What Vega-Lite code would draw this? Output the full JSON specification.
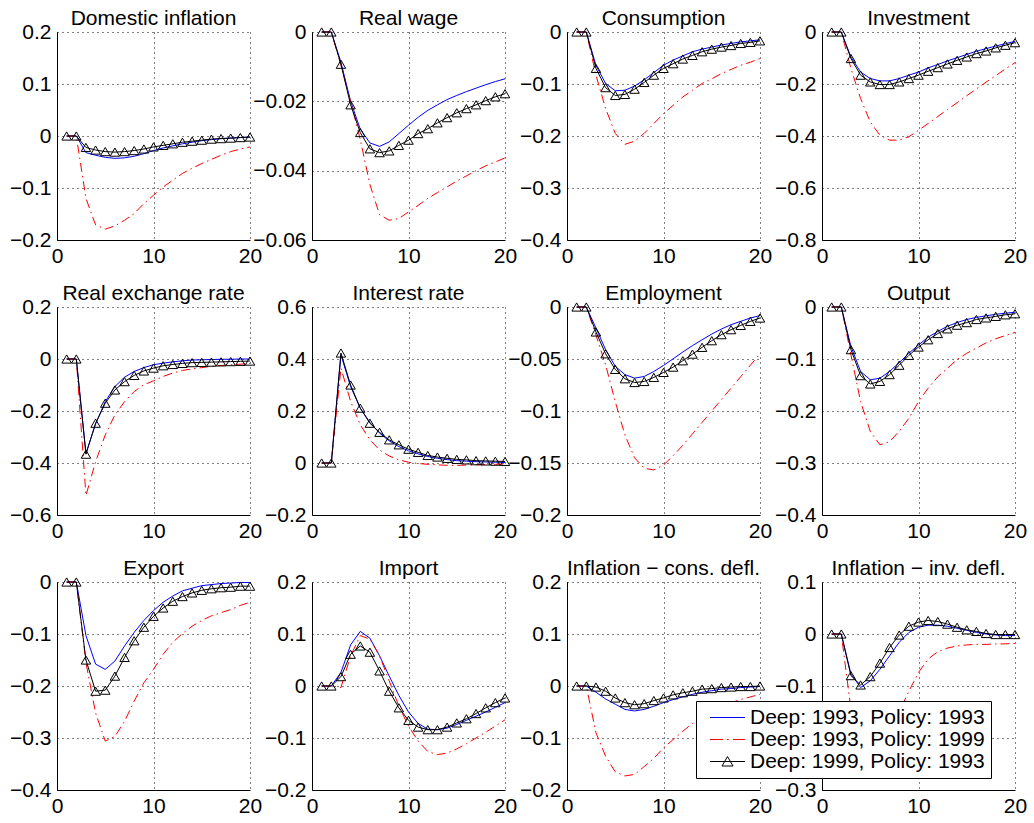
{
"$schema": "https://vega.github.io/schema/vega-lite/v6.json",
"padding": {"left": 9, "top": 8, "right": 2, "bottom": 4},
"background": "white",
"columns": 4,
"bounds": "flush",
"spacing": {"row": 67, "column": 62},
"config": {
  "view": {"stroke": null},
  "font": "Liberation Sans",
  "axis": {"domainColor": "black", "domainWidth": 1, "ticks": false, "labelColor": "black", "labelFontSize": 21, "labelFont": "Liberation Sans", "gridColor": "black", "gridDash": [1, 4], "gridOpacity": 1, "gridWidth": 1, "labelOverlap": false, "labelFlush": false, "labelBound": false, "title": null, "labelPadding": 6, "format": "~g"},
  "axisX": {"labelPadding": 5},
  "title": {"fontSize": 21, "fontWeight": "normal", "font": "Liberation Sans", "color": "black", "offset": -8, "anchor": "middle", "frame": "group"}
},
"datasets": {
"p1": [{"x":1,"s":"A","y":0},{"x":2,"s":"A","y":0},{"x":3,"s":"A","y":-0.032},{"x":4,"s":"A","y":-0.037},{"x":5,"s":"A","y":-0.041},{"x":6,"s":"A","y":-0.043},{"x":7,"s":"A","y":-0.042},{"x":8,"s":"A","y":-0.039},{"x":9,"s":"A","y":-0.034},{"x":10,"s":"A","y":-0.028},{"x":11,"s":"A","y":-0.023},{"x":12,"s":"A","y":-0.019},{"x":13,"s":"A","y":-0.015},{"x":14,"s":"A","y":-0.012},{"x":15,"s":"A","y":-0.009},{"x":16,"s":"A","y":-0.007},{"x":17,"s":"A","y":-0.005},{"x":18,"s":"A","y":-0.004},{"x":19,"s":"A","y":-0.003},{"x":20,"s":"A","y":-0.002},
{"x":1,"s":"B","y":0},{"x":2,"s":"B","y":0},{"x":3,"s":"B","y":-0.12},{"x":4,"s":"B","y":-0.171},{"x":5,"s":"B","y":-0.179},{"x":6,"s":"B","y":-0.173},{"x":7,"s":"B","y":-0.162},{"x":8,"s":"B","y":-0.149},{"x":9,"s":"B","y":-0.13},{"x":10,"s":"B","y":-0.114},{"x":11,"s":"B","y":-0.098},{"x":12,"s":"B","y":-0.085},{"x":13,"s":"B","y":-0.072},{"x":14,"s":"B","y":-0.062},{"x":15,"s":"B","y":-0.053},{"x":16,"s":"B","y":-0.045},{"x":17,"s":"B","y":-0.037},{"x":18,"s":"B","y":-0.03},{"x":19,"s":"B","y":-0.025},{"x":20,"s":"B","y":-0.021},
{"x":1,"s":"C","y":0},{"x":2,"s":"C","y":0},{"x":3,"s":"C","y":-0.022},{"x":4,"s":"C","y":-0.027},{"x":5,"s":"C","y":-0.03},{"x":6,"s":"C","y":-0.031},{"x":7,"s":"C","y":-0.03},{"x":8,"s":"C","y":-0.028},{"x":9,"s":"C","y":-0.025},{"x":10,"s":"C","y":-0.021},{"x":11,"s":"C","y":-0.018},{"x":12,"s":"C","y":-0.015},{"x":13,"s":"C","y":-0.012},{"x":14,"s":"C","y":-0.01},{"x":15,"s":"C","y":-0.008},{"x":16,"s":"C","y":-0.006},{"x":17,"s":"C","y":-0.005},{"x":18,"s":"C","y":-0.004},{"x":19,"s":"C","y":-0.003},{"x":20,"s":"C","y":-0.002}],
"p2": [{"x":1,"s":"A","y":0},{"x":2,"s":"A","y":0},{"x":3,"s":"A","y":-0.0087},{"x":4,"s":"A","y":-0.02},{"x":5,"s":"A","y":-0.028},{"x":6,"s":"A","y":-0.032},{"x":7,"s":"A","y":-0.033},{"x":8,"s":"A","y":-0.0317},{"x":9,"s":"A","y":-0.0293},{"x":10,"s":"A","y":-0.0269},{"x":11,"s":"A","y":-0.0246},{"x":12,"s":"A","y":-0.0226},{"x":13,"s":"A","y":-0.021},{"x":14,"s":"A","y":-0.0195},{"x":15,"s":"A","y":-0.0183},{"x":16,"s":"A","y":-0.0172},{"x":17,"s":"A","y":-0.0162},{"x":18,"s":"A","y":-0.0152},{"x":19,"s":"A","y":-0.0143},{"x":20,"s":"A","y":-0.0135},
{"x":1,"s":"B","y":0},{"x":2,"s":"B","y":0},{"x":3,"s":"B","y":-0.0096},{"x":4,"s":"B","y":-0.02},{"x":5,"s":"B","y":-0.031},{"x":6,"s":"B","y":-0.044},{"x":7,"s":"B","y":-0.0527},{"x":8,"s":"B","y":-0.0543},{"x":9,"s":"B","y":-0.0538},{"x":10,"s":"B","y":-0.0519},{"x":11,"s":"B","y":-0.05},{"x":12,"s":"B","y":-0.048},{"x":13,"s":"B","y":-0.0463},{"x":14,"s":"B","y":-0.0447},{"x":15,"s":"B","y":-0.043},{"x":16,"s":"B","y":-0.0415},{"x":17,"s":"B","y":-0.04},{"x":18,"s":"B","y":-0.0386},{"x":19,"s":"B","y":-0.0375},{"x":20,"s":"B","y":-0.0363},
{"x":1,"s":"C","y":0},{"x":2,"s":"C","y":0},{"x":3,"s":"C","y":-0.0093},{"x":4,"s":"C","y":-0.021},{"x":5,"s":"C","y":-0.029},{"x":6,"s":"C","y":-0.0337},{"x":7,"s":"C","y":-0.0348},{"x":8,"s":"C","y":-0.0343},{"x":9,"s":"C","y":-0.0327},{"x":10,"s":"C","y":-0.0312},{"x":11,"s":"C","y":-0.0293},{"x":12,"s":"C","y":-0.0279},{"x":13,"s":"C","y":-0.0262},{"x":14,"s":"C","y":-0.0247},{"x":15,"s":"C","y":-0.0233},{"x":16,"s":"C","y":-0.0221},{"x":17,"s":"C","y":-0.021},{"x":18,"s":"C","y":-0.0198},{"x":19,"s":"C","y":-0.0187},{"x":20,"s":"C","y":-0.0178}],
"p3": [{"x":1,"s":"A","y":0},{"x":2,"s":"A","y":0},{"x":3,"s":"A","y":-0.064},{"x":4,"s":"A","y":-0.099},{"x":5,"s":"A","y":-0.113},{"x":6,"s":"A","y":-0.112},{"x":7,"s":"A","y":-0.104},{"x":8,"s":"A","y":-0.092},{"x":9,"s":"A","y":-0.078},{"x":10,"s":"A","y":-0.064},{"x":11,"s":"A","y":-0.054},{"x":12,"s":"A","y":-0.046},{"x":13,"s":"A","y":-0.038},{"x":14,"s":"A","y":-0.033},{"x":15,"s":"A","y":-0.029},{"x":16,"s":"A","y":-0.025},{"x":17,"s":"A","y":-0.022},{"x":18,"s":"A","y":-0.019},{"x":19,"s":"A","y":-0.017},{"x":20,"s":"A","y":-0.015},
{"x":1,"s":"B","y":0},{"x":2,"s":"B","y":0},{"x":3,"s":"B","y":-0.083},{"x":4,"s":"B","y":-0.147},{"x":5,"s":"B","y":-0.195},{"x":6,"s":"B","y":-0.216},{"x":7,"s":"B","y":-0.21},{"x":8,"s":"B","y":-0.195},{"x":9,"s":"B","y":-0.176},{"x":10,"s":"B","y":-0.157},{"x":11,"s":"B","y":-0.141},{"x":12,"s":"B","y":-0.125},{"x":13,"s":"B","y":-0.112},{"x":14,"s":"B","y":-0.099},{"x":15,"s":"B","y":-0.09},{"x":16,"s":"B","y":-0.08},{"x":17,"s":"B","y":-0.072},{"x":18,"s":"B","y":-0.064},{"x":19,"s":"B","y":-0.058},{"x":20,"s":"B","y":-0.051},
{"x":1,"s":"C","y":0},{"x":2,"s":"C","y":0},{"x":3,"s":"C","y":-0.07},{"x":4,"s":"C","y":-0.107},{"x":5,"s":"C","y":-0.122},{"x":6,"s":"C","y":-0.12},{"x":7,"s":"C","y":-0.11},{"x":8,"s":"C","y":-0.097},{"x":9,"s":"C","y":-0.083},{"x":10,"s":"C","y":-0.07},{"x":11,"s":"C","y":-0.061},{"x":12,"s":"C","y":-0.052},{"x":13,"s":"C","y":-0.045},{"x":14,"s":"C","y":-0.038},{"x":15,"s":"C","y":-0.033},{"x":16,"s":"C","y":-0.029},{"x":17,"s":"C","y":-0.026},{"x":18,"s":"C","y":-0.022},{"x":19,"s":"C","y":-0.02},{"x":20,"s":"C","y":-0.017}],
"p4": [{"x":1,"s":"A","y":0},{"x":2,"s":"A","y":0},{"x":3,"s":"A","y":-0.096},{"x":4,"s":"A","y":-0.154},{"x":5,"s":"A","y":-0.179},{"x":6,"s":"A","y":-0.188},{"x":7,"s":"A","y":-0.188},{"x":8,"s":"A","y":-0.179},{"x":9,"s":"A","y":-0.166},{"x":10,"s":"A","y":-0.154},{"x":11,"s":"A","y":-0.138},{"x":12,"s":"A","y":-0.125},{"x":13,"s":"A","y":-0.111},{"x":14,"s":"A","y":-0.099},{"x":15,"s":"A","y":-0.086},{"x":16,"s":"A","y":-0.074},{"x":17,"s":"A","y":-0.064},{"x":18,"s":"A","y":-0.054},{"x":19,"s":"A","y":-0.045},{"x":20,"s":"A","y":-0.036},
{"x":1,"s":"B","y":0},{"x":2,"s":"B","y":0},{"x":3,"s":"B","y":-0.141},{"x":4,"s":"B","y":-0.256},{"x":5,"s":"B","y":-0.346},{"x":6,"s":"B","y":-0.397},{"x":7,"s":"B","y":-0.416},{"x":8,"s":"B","y":-0.416},{"x":9,"s":"B","y":-0.403},{"x":10,"s":"B","y":-0.378},{"x":11,"s":"B","y":-0.352},{"x":12,"s":"B","y":-0.325},{"x":13,"s":"B","y":-0.298},{"x":14,"s":"B","y":-0.272},{"x":15,"s":"B","y":-0.245},{"x":16,"s":"B","y":-0.219},{"x":17,"s":"B","y":-0.193},{"x":18,"s":"B","y":-0.168},{"x":19,"s":"B","y":-0.142},{"x":20,"s":"B","y":-0.118},
{"x":1,"s":"C","y":0},{"x":2,"s":"C","y":0},{"x":3,"s":"C","y":-0.102},{"x":4,"s":"C","y":-0.166},{"x":5,"s":"C","y":-0.192},{"x":6,"s":"C","y":-0.202},{"x":7,"s":"C","y":-0.202},{"x":8,"s":"C","y":-0.192},{"x":9,"s":"C","y":-0.179},{"x":10,"s":"C","y":-0.166},{"x":11,"s":"C","y":-0.151},{"x":12,"s":"C","y":-0.137},{"x":13,"s":"C","y":-0.123},{"x":14,"s":"C","y":-0.109},{"x":15,"s":"C","y":-0.096},{"x":16,"s":"C","y":-0.083},{"x":17,"s":"C","y":-0.073},{"x":18,"s":"C","y":-0.061},{"x":19,"s":"C","y":-0.051},{"x":20,"s":"C","y":-0.041}],
"p5": [{"x":1,"s":"A","y":0},{"x":2,"s":"A","y":0},{"x":3,"s":"A","y":-0.363},{"x":4,"s":"A","y":-0.25},{"x":5,"s":"A","y":-0.164},{"x":6,"s":"A","y":-0.106},{"x":7,"s":"A","y":-0.07},{"x":8,"s":"A","y":-0.048},{"x":9,"s":"A","y":-0.033},{"x":10,"s":"A","y":-0.022},{"x":11,"s":"A","y":-0.016},{"x":12,"s":"A","y":-0.011},{"x":13,"s":"A","y":-0.007},{"x":14,"s":"A","y":-0.004},{"x":15,"s":"A","y":-0.003},{"x":16,"s":"A","y":-0.002},{"x":17,"s":"A","y":-0.001},{"x":18,"s":"A","y":-0.001},{"x":19,"s":"A","y":0},{"x":20,"s":"A","y":0},
{"x":1,"s":"B","y":0},{"x":2,"s":"B","y":0},{"x":3,"s":"B","y":-0.525},{"x":4,"s":"B","y":-0.395},{"x":5,"s":"B","y":-0.292},{"x":6,"s":"B","y":-0.215},{"x":7,"s":"B","y":-0.164},{"x":8,"s":"B","y":-0.125},{"x":9,"s":"B","y":-0.099},{"x":10,"s":"B","y":-0.084},{"x":11,"s":"B","y":-0.067},{"x":12,"s":"B","y":-0.054},{"x":13,"s":"B","y":-0.044},{"x":14,"s":"B","y":-0.038},{"x":15,"s":"B","y":-0.033},{"x":16,"s":"B","y":-0.028},{"x":17,"s":"B","y":-0.025},{"x":18,"s":"B","y":-0.022},{"x":19,"s":"B","y":-0.02},{"x":20,"s":"B","y":-0.017},
{"x":1,"s":"C","y":0},{"x":2,"s":"C","y":0},{"x":3,"s":"C","y":-0.366},{"x":4,"s":"C","y":-0.247},{"x":5,"s":"C","y":-0.17},{"x":6,"s":"C","y":-0.119},{"x":7,"s":"C","y":-0.087},{"x":8,"s":"C","y":-0.063},{"x":9,"s":"C","y":-0.046},{"x":10,"s":"C","y":-0.035},{"x":11,"s":"C","y":-0.026},{"x":12,"s":"C","y":-0.021},{"x":13,"s":"C","y":-0.017},{"x":14,"s":"C","y":-0.014},{"x":15,"s":"C","y":-0.013},{"x":16,"s":"C","y":-0.012},{"x":17,"s":"C","y":-0.011},{"x":18,"s":"C","y":-0.01},{"x":19,"s":"C","y":-0.009},{"x":20,"s":"C","y":-0.008}],
"p6": [{"x":1,"s":"A","y":0},{"x":2,"s":"A","y":0},{"x":3,"s":"A","y":0.416},{"x":4,"s":"A","y":0.294},{"x":5,"s":"A","y":0.211},{"x":6,"s":"A","y":0.156},{"x":7,"s":"A","y":0.115},{"x":8,"s":"A","y":0.085},{"x":9,"s":"A","y":0.063},{"x":10,"s":"A","y":0.047},{"x":11,"s":"A","y":0.035},{"x":12,"s":"A","y":0.025},{"x":13,"s":"A","y":0.018},{"x":14,"s":"A","y":0.013},{"x":15,"s":"A","y":0.009},{"x":16,"s":"A","y":0.007},{"x":17,"s":"A","y":0.005},{"x":18,"s":"A","y":0.004},{"x":19,"s":"A","y":0.003},{"x":20,"s":"A","y":0.002},
{"x":1,"s":"B","y":0},{"x":2,"s":"B","y":0},{"x":3,"s":"B","y":0.365},{"x":4,"s":"B","y":0.237},{"x":5,"s":"B","y":0.147},{"x":6,"s":"B","y":0.089},{"x":7,"s":"B","y":0.05},{"x":8,"s":"B","y":0.027},{"x":9,"s":"B","y":0.012},{"x":10,"s":"B","y":0.003},{"x":11,"s":"B","y":-0.002},{"x":12,"s":"B","y":-0.005},{"x":13,"s":"B","y":-0.007},{"x":14,"s":"B","y":-0.009},{"x":15,"s":"B","y":-0.009},{"x":16,"s":"B","y":-0.008},{"x":17,"s":"B","y":-0.007},{"x":18,"s":"B","y":-0.006},{"x":19,"s":"B","y":-0.005},{"x":20,"s":"B","y":-0.004},
{"x":1,"s":"C","y":0},{"x":2,"s":"C","y":0},{"x":3,"s":"C","y":0.423},{"x":4,"s":"C","y":0.3},{"x":5,"s":"C","y":0.211},{"x":6,"s":"C","y":0.153},{"x":7,"s":"C","y":0.118},{"x":8,"s":"C","y":0.089},{"x":9,"s":"C","y":0.07},{"x":10,"s":"C","y":0.053},{"x":11,"s":"C","y":0.041},{"x":12,"s":"C","y":0.029},{"x":13,"s":"C","y":0.023},{"x":14,"s":"C","y":0.018},{"x":15,"s":"C","y":0.014},{"x":16,"s":"C","y":0.012},{"x":17,"s":"C","y":0.009},{"x":18,"s":"C","y":0.008},{"x":19,"s":"C","y":0.007},{"x":20,"s":"C","y":0.006}],
"p7": [{"x":1,"s":"A","y":0},{"x":2,"s":"A","y":0},{"x":3,"s":"A","y":-0.0202},{"x":4,"s":"A","y":-0.041},{"x":5,"s":"A","y":-0.057},{"x":6,"s":"A","y":-0.065},{"x":7,"s":"A","y":-0.0684},{"x":8,"s":"A","y":-0.0668},{"x":9,"s":"A","y":-0.062},{"x":10,"s":"A","y":-0.0562},{"x":11,"s":"A","y":-0.0498},{"x":12,"s":"A","y":-0.0433},{"x":13,"s":"A","y":-0.0372},{"x":14,"s":"A","y":-0.0315},{"x":15,"s":"A","y":-0.026},{"x":16,"s":"A","y":-0.0212},{"x":17,"s":"A","y":-0.017},{"x":18,"s":"A","y":-0.0138},{"x":19,"s":"A","y":-0.0106},{"x":20,"s":"A","y":-0.0083},
{"x":1,"s":"B","y":0},{"x":2,"s":"B","y":0},{"x":3,"s":"B","y":-0.027},{"x":4,"s":"B","y":-0.0555},{"x":5,"s":"B","y":-0.091},{"x":6,"s":"B","y":-0.123},{"x":7,"s":"B","y":-0.145},{"x":8,"s":"B","y":-0.155},{"x":9,"s":"B","y":-0.1567},{"x":10,"s":"B","y":-0.152},{"x":11,"s":"B","y":-0.143},{"x":12,"s":"B","y":-0.133},{"x":13,"s":"B","y":-0.122},{"x":14,"s":"B","y":-0.111},{"x":15,"s":"B","y":-0.1},{"x":16,"s":"B","y":-0.089},{"x":17,"s":"B","y":-0.078},{"x":18,"s":"B","y":-0.067},{"x":19,"s":"B","y":-0.056},{"x":20,"s":"B","y":-0.045},
{"x":1,"s":"C","y":0},{"x":2,"s":"C","y":0},{"x":3,"s":"C","y":-0.024},{"x":4,"s":"C","y":-0.045},{"x":5,"s":"C","y":-0.06},{"x":6,"s":"C","y":-0.069},{"x":7,"s":"C","y":-0.0726},{"x":8,"s":"C","y":-0.0716},{"x":9,"s":"C","y":-0.0677},{"x":10,"s":"C","y":-0.0629},{"x":11,"s":"C","y":-0.0578},{"x":12,"s":"C","y":-0.0517},{"x":13,"s":"C","y":-0.0453},{"x":14,"s":"C","y":-0.0388},{"x":15,"s":"C","y":-0.0324},{"x":16,"s":"C","y":-0.0266},{"x":17,"s":"C","y":-0.0218},{"x":18,"s":"C","y":-0.0177},{"x":19,"s":"C","y":-0.0138},{"x":20,"s":"C","y":-0.0106}],
"p8": [{"x":1,"s":"A","y":0},{"x":2,"s":"A","y":0},{"x":3,"s":"A","y":-0.076},{"x":4,"s":"A","y":-0.124},{"x":5,"s":"A","y":-0.14},{"x":6,"s":"A","y":-0.137},{"x":7,"s":"A","y":-0.124},{"x":8,"s":"A","y":-0.107},{"x":9,"s":"A","y":-0.089},{"x":10,"s":"A","y":-0.073},{"x":11,"s":"A","y":-0.058},{"x":12,"s":"A","y":-0.047},{"x":13,"s":"A","y":-0.037},{"x":14,"s":"A","y":-0.03},{"x":15,"s":"A","y":-0.024},{"x":16,"s":"A","y":-0.02},{"x":17,"s":"A","y":-0.017},{"x":18,"s":"A","y":-0.014},{"x":19,"s":"A","y":-0.012},{"x":20,"s":"A","y":-0.01},
{"x":1,"s":"B","y":0},{"x":2,"s":"B","y":0},{"x":3,"s":"B","y":-0.092},{"x":4,"s":"B","y":-0.182},{"x":5,"s":"B","y":-0.239},{"x":6,"s":"B","y":-0.265},{"x":7,"s":"B","y":-0.259},{"x":8,"s":"B","y":-0.239},{"x":9,"s":"B","y":-0.214},{"x":10,"s":"B","y":-0.182},{"x":11,"s":"B","y":-0.156},{"x":12,"s":"B","y":-0.134},{"x":13,"s":"B","y":-0.118},{"x":14,"s":"B","y":-0.101},{"x":15,"s":"B","y":-0.089},{"x":16,"s":"B","y":-0.079},{"x":17,"s":"B","y":-0.069},{"x":18,"s":"B","y":-0.061},{"x":19,"s":"B","y":-0.055},{"x":20,"s":"B","y":-0.049},
{"x":1,"s":"C","y":0},{"x":2,"s":"C","y":0},{"x":3,"s":"C","y":-0.082},{"x":4,"s":"C","y":-0.132},{"x":5,"s":"C","y":-0.148},{"x":6,"s":"C","y":-0.143},{"x":7,"s":"C","y":-0.13},{"x":8,"s":"C","y":-0.112},{"x":9,"s":"C","y":-0.093},{"x":10,"s":"C","y":-0.077},{"x":11,"s":"C","y":-0.063},{"x":12,"s":"C","y":-0.051},{"x":13,"s":"C","y":-0.042},{"x":14,"s":"C","y":-0.035},{"x":15,"s":"C","y":-0.03},{"x":16,"s":"C","y":-0.024},{"x":17,"s":"C","y":-0.021},{"x":18,"s":"C","y":-0.018},{"x":19,"s":"C","y":-0.015},{"x":20,"s":"C","y":-0.013}],
"p9": [{"x":1,"s":"A","y":0},{"x":2,"s":"A","y":0},{"x":3,"s":"A","y":-0.103},{"x":4,"s":"A","y":-0.158},{"x":5,"s":"A","y":-0.168},{"x":6,"s":"A","y":-0.152},{"x":7,"s":"A","y":-0.123},{"x":8,"s":"A","y":-0.097},{"x":9,"s":"A","y":-0.074},{"x":10,"s":"A","y":-0.055},{"x":11,"s":"A","y":-0.039},{"x":12,"s":"A","y":-0.027},{"x":13,"s":"A","y":-0.017},{"x":14,"s":"A","y":-0.012},{"x":15,"s":"A","y":-0.007},{"x":16,"s":"A","y":-0.005},{"x":17,"s":"A","y":-0.003},{"x":18,"s":"A","y":-0.002},{"x":19,"s":"A","y":-0.001},{"x":20,"s":"A","y":-0.001},
{"x":1,"s":"B","y":0},{"x":2,"s":"B","y":0},{"x":3,"s":"B","y":-0.155},{"x":4,"s":"B","y":-0.252},{"x":5,"s":"B","y":-0.306},{"x":6,"s":"B","y":-0.297},{"x":7,"s":"B","y":-0.268},{"x":8,"s":"B","y":-0.229},{"x":9,"s":"B","y":-0.194},{"x":10,"s":"B","y":-0.168},{"x":11,"s":"B","y":-0.139},{"x":12,"s":"B","y":-0.116},{"x":13,"s":"B","y":-0.099},{"x":14,"s":"B","y":-0.085},{"x":15,"s":"B","y":-0.074},{"x":16,"s":"B","y":-0.065},{"x":17,"s":"B","y":-0.059},{"x":18,"s":"B","y":-0.053},{"x":19,"s":"B","y":-0.045},{"x":20,"s":"B","y":-0.039},
{"x":1,"s":"C","y":0},{"x":2,"s":"C","y":0},{"x":3,"s":"C","y":-0.15},{"x":4,"s":"C","y":-0.21},{"x":5,"s":"C","y":-0.208},{"x":6,"s":"C","y":-0.181},{"x":7,"s":"C","y":-0.145},{"x":8,"s":"C","y":-0.113},{"x":9,"s":"C","y":-0.087},{"x":10,"s":"C","y":-0.066},{"x":11,"s":"C","y":-0.05},{"x":12,"s":"C","y":-0.037},{"x":13,"s":"C","y":-0.028},{"x":14,"s":"C","y":-0.021},{"x":15,"s":"C","y":-0.016},{"x":16,"s":"C","y":-0.013},{"x":17,"s":"C","y":-0.011},{"x":18,"s":"C","y":-0.01},{"x":19,"s":"C","y":-0.008},{"x":20,"s":"C","y":-0.008}],
"p10": [{"x":1,"s":"A","y":0},{"x":2,"s":"A","y":0},{"x":3,"s":"A","y":0.026},{"x":4,"s":"A","y":0.079},{"x":5,"s":"A","y":0.105},{"x":6,"s":"A","y":0.092},{"x":7,"s":"A","y":0.058},{"x":8,"s":"A","y":0.019},{"x":9,"s":"A","y":-0.018},{"x":10,"s":"A","y":-0.05},{"x":11,"s":"A","y":-0.072},{"x":12,"s":"A","y":-0.083},{"x":13,"s":"A","y":-0.084},{"x":14,"s":"A","y":-0.081},{"x":15,"s":"A","y":-0.074},{"x":16,"s":"A","y":-0.066},{"x":17,"s":"A","y":-0.058},{"x":18,"s":"A","y":-0.05},{"x":19,"s":"A","y":-0.041},{"x":20,"s":"A","y":-0.032},
{"x":1,"s":"B","y":0},{"x":2,"s":"B","y":0},{"x":3,"s":"B","y":-0.003},{"x":4,"s":"B","y":0.058},{"x":5,"s":"B","y":0.097},{"x":6,"s":"B","y":0.09},{"x":7,"s":"B","y":0.058},{"x":8,"s":"B","y":0.01},{"x":9,"s":"B","y":-0.039},{"x":10,"s":"B","y":-0.077},{"x":11,"s":"B","y":-0.106},{"x":12,"s":"B","y":-0.126},{"x":13,"s":"B","y":-0.132},{"x":14,"s":"B","y":-0.129},{"x":15,"s":"B","y":-0.121},{"x":16,"s":"B","y":-0.111},{"x":17,"s":"B","y":-0.1},{"x":18,"s":"B","y":-0.089},{"x":19,"s":"B","y":-0.077},{"x":20,"s":"B","y":-0.065},
{"x":1,"s":"C","y":0},{"x":2,"s":"C","y":0},{"x":3,"s":"C","y":0.018},{"x":4,"s":"C","y":0.061},{"x":5,"s":"C","y":0.077},{"x":6,"s":"C","y":0.065},{"x":7,"s":"C","y":0.029},{"x":8,"s":"C","y":-0.01},{"x":9,"s":"C","y":-0.042},{"x":10,"s":"C","y":-0.066},{"x":11,"s":"C","y":-0.079},{"x":12,"s":"C","y":-0.084},{"x":13,"s":"C","y":-0.084},{"x":14,"s":"C","y":-0.079},{"x":15,"s":"C","y":-0.071},{"x":16,"s":"C","y":-0.063},{"x":17,"s":"C","y":-0.053},{"x":18,"s":"C","y":-0.042},{"x":19,"s":"C","y":-0.032},{"x":20,"s":"C","y":-0.023}],
"p11": [{"x":1,"s":"A","y":0},{"x":2,"s":"A","y":0},{"x":3,"s":"A","y":-0.012},{"x":4,"s":"A","y":-0.025},{"x":5,"s":"A","y":-0.035},{"x":6,"s":"A","y":-0.045},{"x":7,"s":"A","y":-0.048},{"x":8,"s":"A","y":-0.045},{"x":9,"s":"A","y":-0.039},{"x":10,"s":"A","y":-0.032},{"x":11,"s":"A","y":-0.026},{"x":12,"s":"A","y":-0.021},{"x":13,"s":"A","y":-0.016},{"x":14,"s":"A","y":-0.012},{"x":15,"s":"A","y":-0.009},{"x":16,"s":"A","y":-0.006},{"x":17,"s":"A","y":-0.005},{"x":18,"s":"A","y":-0.003},{"x":19,"s":"A","y":-0.002},{"x":20,"s":"A","y":-0.001},
{"x":1,"s":"B","y":0},{"x":2,"s":"B","y":0},{"x":3,"s":"B","y":-0.09},{"x":4,"s":"B","y":-0.135},{"x":5,"s":"B","y":-0.165},{"x":6,"s":"B","y":-0.173},{"x":7,"s":"B","y":-0.17},{"x":8,"s":"B","y":-0.155},{"x":9,"s":"B","y":-0.139},{"x":10,"s":"B","y":-0.119},{"x":11,"s":"B","y":-0.103},{"x":12,"s":"B","y":-0.087},{"x":13,"s":"B","y":-0.072},{"x":14,"s":"B","y":-0.059},{"x":15,"s":"B","y":-0.048},{"x":16,"s":"B","y":-0.039},{"x":17,"s":"B","y":-0.032},{"x":18,"s":"B","y":-0.026},{"x":19,"s":"B","y":-0.021},{"x":20,"s":"B","y":-0.016},
{"x":1,"s":"C","y":0},{"x":2,"s":"C","y":0},{"x":3,"s":"C","y":-0.002},{"x":4,"s":"C","y":-0.01},{"x":5,"s":"C","y":-0.023},{"x":6,"s":"C","y":-0.032},{"x":7,"s":"C","y":-0.036},{"x":8,"s":"C","y":-0.034},{"x":9,"s":"C","y":-0.028},{"x":10,"s":"C","y":-0.023},{"x":11,"s":"C","y":-0.017},{"x":12,"s":"C","y":-0.013},{"x":13,"s":"C","y":-0.01},{"x":14,"s":"C","y":-0.006},{"x":15,"s":"C","y":-0.005},{"x":16,"s":"C","y":-0.003},{"x":17,"s":"C","y":-0.002},{"x":18,"s":"C","y":-0.001},{"x":19,"s":"C","y":-0.001},{"x":20,"s":"C","y":0}],
"p12": [{"x":1,"s":"A","y":0},{"x":2,"s":"A","y":0},{"x":3,"s":"A","y":-0.077},{"x":4,"s":"A","y":-0.103},{"x":5,"s":"A","y":-0.09},{"x":6,"s":"A","y":-0.068},{"x":7,"s":"A","y":-0.042},{"x":8,"s":"A","y":-0.016},{"x":9,"s":"A","y":0.003},{"x":10,"s":"A","y":0.013},{"x":11,"s":"A","y":0.017},{"x":12,"s":"A","y":0.017},{"x":13,"s":"A","y":0.015},{"x":14,"s":"A","y":0.011},{"x":15,"s":"A","y":0.007},{"x":16,"s":"A","y":0.003},{"x":17,"s":"A","y":0},{"x":18,"s":"A","y":-0.002},{"x":19,"s":"A","y":-0.003},{"x":20,"s":"A","y":-0.003},
{"x":1,"s":"B","y":0},{"x":2,"s":"B","y":0},{"x":3,"s":"B","y":-0.145},{"x":4,"s":"B","y":-0.2},{"x":5,"s":"B","y":-0.22},{"x":6,"s":"B","y":-0.21},{"x":7,"s":"B","y":-0.19},{"x":8,"s":"B","y":-0.15},{"x":9,"s":"B","y":-0.11},{"x":10,"s":"B","y":-0.074},{"x":11,"s":"B","y":-0.048},{"x":12,"s":"B","y":-0.034},{"x":13,"s":"B","y":-0.027},{"x":14,"s":"B","y":-0.023},{"x":15,"s":"B","y":-0.021},{"x":16,"s":"B","y":-0.02},{"x":17,"s":"B","y":-0.02},{"x":18,"s":"B","y":-0.019},{"x":19,"s":"B","y":-0.019},{"x":20,"s":"B","y":-0.018},
{"x":1,"s":"C","y":0},{"x":2,"s":"C","y":0},{"x":3,"s":"C","y":-0.08},{"x":4,"s":"C","y":-0.098},{"x":5,"s":"C","y":-0.082},{"x":6,"s":"C","y":-0.056},{"x":7,"s":"C","y":-0.026},{"x":8,"s":"C","y":-0.002},{"x":9,"s":"C","y":0.015},{"x":10,"s":"C","y":0.023},{"x":11,"s":"C","y":0.026},{"x":12,"s":"C","y":0.024},{"x":13,"s":"C","y":0.019},{"x":14,"s":"C","y":0.013},{"x":15,"s":"C","y":0.008},{"x":16,"s":"C","y":0.005},{"x":17,"s":"C","y":0.001},{"x":18,"s":"C","y":-0.001},{"x":19,"s":"C","y":-0.001},{"x":20,"s":"C","y":-0.001}]
},
"concat": [
{"title": "Domestic inflation", "width": 193, "height": 208, "data": {"name": "p1"},
 "encoding": {"x": {"field": "x", "type": "quantitative", "scale": {"domain": [0, 20], "nice": false}, "axis": {"values": [0, 10, 20]}}, "y": {"field": "y", "type": "quantitative", "scale": {"domain": [-0.2, 0.2], "nice": false, "zero": false}, "axis": {"values": [-0.2, -0.1, 0, 0.1, 0.2]}}},
 "layer": [
  {"transform": [{"filter": "datum.s=='A'"}], "mark": {"type": "line", "color": "#0000ff", "strokeWidth": 1}},
  {"transform": [{"filter": "datum.s=='B'"}], "mark": {"type": "line", "color": "#ff0000", "strokeWidth": 1, "strokeDash": [9, 4, 1.5, 4]}},
  {"transform": [{"filter": "datum.s=='C'"}], "mark": {"type": "line", "color": "#000000", "strokeWidth": 1}},
  {"transform": [{"filter": "datum.s=='C'"}], "mark": {"type": "point", "shape": "triangle-up", "size": 90, "color": "#000000", "filled": false, "strokeWidth": 1, "opacity": 1}}
 ]},
{"title": "Real wage", "width": 193, "height": 208, "data": {"name": "p2"},
 "encoding": {"x": {"field": "x", "type": "quantitative", "scale": {"domain": [0, 20], "nice": false}, "axis": {"values": [0, 10, 20]}}, "y": {"field": "y", "type": "quantitative", "scale": {"domain": [-0.06, 0], "nice": false, "zero": false}, "axis": {"values": [-0.06, -0.04, -0.02, 0]}}},
 "layer": [
  {"transform": [{"filter": "datum.s=='A'"}], "mark": {"type": "line", "color": "#0000ff", "strokeWidth": 1}},
  {"transform": [{"filter": "datum.s=='B'"}], "mark": {"type": "line", "color": "#ff0000", "strokeWidth": 1, "strokeDash": [9, 4, 1.5, 4]}},
  {"transform": [{"filter": "datum.s=='C'"}], "mark": {"type": "line", "color": "#000000", "strokeWidth": 1}},
  {"transform": [{"filter": "datum.s=='C'"}], "mark": {"type": "point", "shape": "triangle-up", "size": 90, "color": "#000000", "filled": false, "strokeWidth": 1, "opacity": 1}}
 ]},
{"title": "Consumption", "width": 193, "height": 208, "data": {"name": "p3"},
 "encoding": {"x": {"field": "x", "type": "quantitative", "scale": {"domain": [0, 20], "nice": false}, "axis": {"values": [0, 10, 20]}}, "y": {"field": "y", "type": "quantitative", "scale": {"domain": [-0.4, 0], "nice": false, "zero": false}, "axis": {"values": [-0.4, -0.3, -0.2, -0.1, 0]}}},
 "layer": [
  {"transform": [{"filter": "datum.s=='A'"}], "mark": {"type": "line", "color": "#0000ff", "strokeWidth": 1}},
  {"transform": [{"filter": "datum.s=='B'"}], "mark": {"type": "line", "color": "#ff0000", "strokeWidth": 1, "strokeDash": [9, 4, 1.5, 4]}},
  {"transform": [{"filter": "datum.s=='C'"}], "mark": {"type": "line", "color": "#000000", "strokeWidth": 1}},
  {"transform": [{"filter": "datum.s=='C'"}], "mark": {"type": "point", "shape": "triangle-up", "size": 90, "color": "#000000", "filled": false, "strokeWidth": 1, "opacity": 1}}
 ]},
{"title": "Investment", "width": 193, "height": 208, "data": {"name": "p4"},
 "encoding": {"x": {"field": "x", "type": "quantitative", "scale": {"domain": [0, 20], "nice": false}, "axis": {"values": [0, 10, 20]}}, "y": {"field": "y", "type": "quantitative", "scale": {"domain": [-0.8, 0], "nice": false, "zero": false}, "axis": {"values": [-0.8, -0.6, -0.4, -0.2, 0]}}},
 "layer": [
  {"transform": [{"filter": "datum.s=='A'"}], "mark": {"type": "line", "color": "#0000ff", "strokeWidth": 1}},
  {"transform": [{"filter": "datum.s=='B'"}], "mark": {"type": "line", "color": "#ff0000", "strokeWidth": 1, "strokeDash": [9, 4, 1.5, 4]}},
  {"transform": [{"filter": "datum.s=='C'"}], "mark": {"type": "line", "color": "#000000", "strokeWidth": 1}},
  {"transform": [{"filter": "datum.s=='C'"}], "mark": {"type": "point", "shape": "triangle-up", "size": 90, "color": "#000000", "filled": false, "strokeWidth": 1, "opacity": 1}}
 ]},
{"title": "Real exchange rate", "width": 193, "height": 208, "data": {"name": "p5"},
 "encoding": {"x": {"field": "x", "type": "quantitative", "scale": {"domain": [0, 20], "nice": false}, "axis": {"values": [0, 10, 20]}}, "y": {"field": "y", "type": "quantitative", "scale": {"domain": [-0.6, 0.2], "nice": false, "zero": false}, "axis": {"values": [-0.6, -0.4, -0.2, 0, 0.2]}}},
 "layer": [
  {"transform": [{"filter": "datum.s=='A'"}], "mark": {"type": "line", "color": "#0000ff", "strokeWidth": 1}},
  {"transform": [{"filter": "datum.s=='B'"}], "mark": {"type": "line", "color": "#ff0000", "strokeWidth": 1, "strokeDash": [9, 4, 1.5, 4]}},
  {"transform": [{"filter": "datum.s=='C'"}], "mark": {"type": "line", "color": "#000000", "strokeWidth": 1}},
  {"transform": [{"filter": "datum.s=='C'"}], "mark": {"type": "point", "shape": "triangle-up", "size": 90, "color": "#000000", "filled": false, "strokeWidth": 1, "opacity": 1}}
 ]},
{"title": "Interest rate", "width": 193, "height": 208, "data": {"name": "p6"},
 "encoding": {"x": {"field": "x", "type": "quantitative", "scale": {"domain": [0, 20], "nice": false}, "axis": {"values": [0, 10, 20]}}, "y": {"field": "y", "type": "quantitative", "scale": {"domain": [-0.2, 0.6], "nice": false, "zero": false}, "axis": {"values": [-0.2, 0, 0.2, 0.4, 0.6]}}},
 "layer": [
  {"transform": [{"filter": "datum.s=='A'"}], "mark": {"type": "line", "color": "#0000ff", "strokeWidth": 1}},
  {"transform": [{"filter": "datum.s=='B'"}], "mark": {"type": "line", "color": "#ff0000", "strokeWidth": 1, "strokeDash": [9, 4, 1.5, 4]}},
  {"transform": [{"filter": "datum.s=='C'"}], "mark": {"type": "line", "color": "#000000", "strokeWidth": 1}},
  {"transform": [{"filter": "datum.s=='C'"}], "mark": {"type": "point", "shape": "triangle-up", "size": 90, "color": "#000000", "filled": false, "strokeWidth": 1, "opacity": 1}}
 ]},
{"title": "Employment", "width": 193, "height": 208, "data": {"name": "p7"},
 "encoding": {"x": {"field": "x", "type": "quantitative", "scale": {"domain": [0, 20], "nice": false}, "axis": {"values": [0, 10, 20]}}, "y": {"field": "y", "type": "quantitative", "scale": {"domain": [-0.2, 0], "nice": false, "zero": false}, "axis": {"values": [-0.2, -0.15, -0.1, -0.05, 0]}}},
 "layer": [
  {"transform": [{"filter": "datum.s=='A'"}], "mark": {"type": "line", "color": "#0000ff", "strokeWidth": 1}},
  {"transform": [{"filter": "datum.s=='B'"}], "mark": {"type": "line", "color": "#ff0000", "strokeWidth": 1, "strokeDash": [9, 4, 1.5, 4]}},
  {"transform": [{"filter": "datum.s=='C'"}], "mark": {"type": "line", "color": "#000000", "strokeWidth": 1}},
  {"transform": [{"filter": "datum.s=='C'"}], "mark": {"type": "point", "shape": "triangle-up", "size": 90, "color": "#000000", "filled": false, "strokeWidth": 1, "opacity": 1}}
 ]},
{"title": "Output", "width": 193, "height": 208, "data": {"name": "p8"},
 "encoding": {"x": {"field": "x", "type": "quantitative", "scale": {"domain": [0, 20], "nice": false}, "axis": {"values": [0, 10, 20]}}, "y": {"field": "y", "type": "quantitative", "scale": {"domain": [-0.4, 0], "nice": false, "zero": false}, "axis": {"values": [-0.4, -0.3, -0.2, -0.1, 0]}}},
 "layer": [
  {"transform": [{"filter": "datum.s=='A'"}], "mark": {"type": "line", "color": "#0000ff", "strokeWidth": 1}},
  {"transform": [{"filter": "datum.s=='B'"}], "mark": {"type": "line", "color": "#ff0000", "strokeWidth": 1, "strokeDash": [9, 4, 1.5, 4]}},
  {"transform": [{"filter": "datum.s=='C'"}], "mark": {"type": "line", "color": "#000000", "strokeWidth": 1}},
  {"transform": [{"filter": "datum.s=='C'"}], "mark": {"type": "point", "shape": "triangle-up", "size": 90, "color": "#000000", "filled": false, "strokeWidth": 1, "opacity": 1}}
 ]},
{"title": "Export", "width": 193, "height": 208, "data": {"name": "p9"},
 "encoding": {"x": {"field": "x", "type": "quantitative", "scale": {"domain": [0, 20], "nice": false}, "axis": {"values": [0, 10, 20]}}, "y": {"field": "y", "type": "quantitative", "scale": {"domain": [-0.4, 0], "nice": false, "zero": false}, "axis": {"values": [-0.4, -0.3, -0.2, -0.1, 0]}}},
 "layer": [
  {"transform": [{"filter": "datum.s=='A'"}], "mark": {"type": "line", "color": "#0000ff", "strokeWidth": 1}},
  {"transform": [{"filter": "datum.s=='B'"}], "mark": {"type": "line", "color": "#ff0000", "strokeWidth": 1, "strokeDash": [9, 4, 1.5, 4]}},
  {"transform": [{"filter": "datum.s=='C'"}], "mark": {"type": "line", "color": "#000000", "strokeWidth": 1}},
  {"transform": [{"filter": "datum.s=='C'"}], "mark": {"type": "point", "shape": "triangle-up", "size": 90, "color": "#000000", "filled": false, "strokeWidth": 1, "opacity": 1}}
 ]},
{"title": "Import", "width": 193, "height": 208, "data": {"name": "p10"},
 "encoding": {"x": {"field": "x", "type": "quantitative", "scale": {"domain": [0, 20], "nice": false}, "axis": {"values": [0, 10, 20]}}, "y": {"field": "y", "type": "quantitative", "scale": {"domain": [-0.2, 0.2], "nice": false, "zero": false}, "axis": {"values": [-0.2, -0.1, 0, 0.1, 0.2]}}},
 "layer": [
  {"transform": [{"filter": "datum.s=='A'"}], "mark": {"type": "line", "color": "#0000ff", "strokeWidth": 1}},
  {"transform": [{"filter": "datum.s=='B'"}], "mark": {"type": "line", "color": "#ff0000", "strokeWidth": 1, "strokeDash": [9, 4, 1.5, 4]}},
  {"transform": [{"filter": "datum.s=='C'"}], "mark": {"type": "line", "color": "#000000", "strokeWidth": 1}},
  {"transform": [{"filter": "datum.s=='C'"}], "mark": {"type": "point", "shape": "triangle-up", "size": 90, "color": "#000000", "filled": false, "strokeWidth": 1, "opacity": 1}}
 ]},
{"title": "Inflation − cons. defl.", "width": 193, "height": 208, "data": {"name": "p11"},
 "encoding": {"x": {"field": "x", "type": "quantitative", "scale": {"domain": [0, 20], "nice": false}, "axis": {"values": [0, 10, 20]}}, "y": {"field": "y", "type": "quantitative", "scale": {"domain": [-0.2, 0.2], "nice": false, "zero": false}, "axis": {"values": [-0.2, -0.1, 0, 0.1, 0.2]}}},
 "layer": [
  {"transform": [{"filter": "datum.s=='A'"}], "mark": {"type": "line", "color": "#0000ff", "strokeWidth": 1}},
  {"transform": [{"filter": "datum.s=='B'"}], "mark": {"type": "line", "color": "#ff0000", "strokeWidth": 1, "strokeDash": [9, 4, 1.5, 4]}},
  {"transform": [{"filter": "datum.s=='C'"}], "mark": {"type": "line", "color": "#000000", "strokeWidth": 1}},
  {"transform": [{"filter": "datum.s=='C'"}], "mark": {"type": "point", "shape": "triangle-up", "size": 90, "color": "#000000", "filled": false, "strokeWidth": 1, "opacity": 1}}
 ]},
{"title": "Inflation − inv. defl.", "width": 193, "height": 208, "data": {"name": "p12"},
 "encoding": {"x": {"field": "x", "type": "quantitative", "scale": {"domain": [0, 20], "nice": false}, "axis": {"values": [0, 10, 20]}}, "y": {"field": "y", "type": "quantitative", "scale": {"domain": [-0.3, 0.1], "nice": false, "zero": false}, "axis": {"values": [-0.3, -0.2, -0.1, 0, 0.1]}}},
 "layer": [
  {"transform": [{"filter": "datum.s=='A'"}], "mark": {"type": "line", "color": "#0000ff", "strokeWidth": 1}},
  {"transform": [{"filter": "datum.s=='B'"}], "mark": {"type": "line", "color": "#ff0000", "strokeWidth": 1, "strokeDash": [9, 4, 1.5, 4]}},
  {"transform": [{"filter": "datum.s=='C'"}], "mark": {"type": "line", "color": "#000000", "strokeWidth": 1}},
  {"transform": [{"filter": "datum.s=='C'"}], "mark": {"type": "point", "shape": "triangle-up", "size": 90, "color": "#000000", "filled": false, "strokeWidth": 1, "opacity": 1}},
  {"data": {"values": []}, "mark": {"type": "point", "filled": false, "strokeWidth": 1, "opacity": 1},
   "encoding": {
    "color": {"field": "s", "type": "nominal", "scale": {"domain": ["Deep: 1993, Policy: 1993", "Deep: 1993, Policy: 1999", "Deep: 1999, Policy: 1993"], "range": ["#0000ff", "#ff0000", "#000000"]},
      "legend": {"title": null, "orient": "none", "legendX": 639, "legendY": 669, "fillColor": "white", "strokeColor": "black", "padding": 6, "labelFontSize": 21, "labelFont": "Liberation Sans", "labelColor": "black", "symbolSize": 100, "symbolStrokeWidth": 1, "symbolOffset": 15, "labelOffset": 12, "rowPadding": 0, "labelLimit": 400}},
    "shape": {"field": "s", "type": "nominal", "scale": {"domain": ["Deep: 1993, Policy: 1993", "Deep: 1993, Policy: 1999", "Deep: 1999, Policy: 1993"], "range": ["M-3.5,0H3.5", "M-3.5,0H-0.9M-0.15,0H0.25M1.1,0H3.5", "M-3.5,0H3.5M0,-1L1.1,0.9L-1.1,0.9Z"]},
      "legend": {"title": null, "orient": "none", "legendX": 639, "legendY": 669, "fillColor": "white", "strokeColor": "black", "padding": 6, "labelFontSize": 21, "labelFont": "Liberation Sans", "labelColor": "black", "symbolSize": 100, "symbolStrokeWidth": 1, "symbolOffset": 15, "labelOffset": 12, "rowPadding": 0, "labelLimit": 400}}
   }}
 ]}
]
}
